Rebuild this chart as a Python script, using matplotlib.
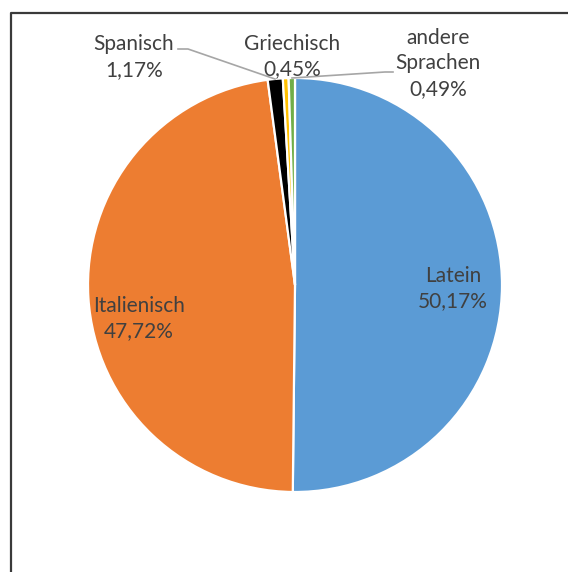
import matplotlib
matplotlib.use("Agg")
import matplotlib.pyplot as plt
from matplotlib.lines import Line2D

# Sprachenverteilung (Anteile in %)
sprachen = ["Latein", "Italienisch", "Spanisch", "Griechisch", "andere\nSprachen"]
anteile = [50.17, 47.72, 1.17, 0.45, 0.49]
farben = ["#5B9BD5", "#ED7D31", "#000000", "#FFC000", "#70AD47"]

W, H = 568, 572
plt.rcParams['font.family'] = ['Lato', 'DejaVu Sans']

fig = plt.figure(figsize=(W / 100, H / 100), dpi=100)

# pie centre and radius in pixels
cx, cy, r = 295, 285, 207
ax = fig.add_axes([(cx - r) / W, 1 - (cy + r) / H, 2 * r / W, 2 * r / H])
ax.pie(anteile, colors=farben, startangle=90, counterclock=False,
       wedgeprops=dict(edgecolor="white", linewidth=1.6))
ax.set_xlim(-1, 1)
ax.set_ylim(-1, 1)
ax.set_aspect("equal")


def fx(px):
    return px / W


def fy(py):
    return 1 - py / H


def fmt(v):
    return f"{v:.2f}".replace(".", ",") + "%"


# label anchors: centre x and baseline y of each text line
pos = [
    (453, [282, 307]),
    (139, [312, 337]),
    (134, [50, 76]),
    (292, [50, 75]),
    (438, [44, 69, 95]),
]
txt_color = "#404040"
for name, val, (x, baselines) in zip(sprachen, anteile, pos):
    lines = name.split("\n") + [fmt(val)]
    for s, b in zip(lines, baselines):
        fig.text(fx(x), fy(b), s, ha="center", va="baseline",
                 fontsize=15, color=txt_color)

# leader lines for the small slices
lc = "#A6A6A6"
fig.add_artist(Line2D([fx(178), fx(188), fx(275)], [fy(49), fy(49), fy(79)],
                      color=lc, lw=1.2))
fig.add_artist(Line2D([fx(393), fx(385), fx(292)], [fy(72), fy(72), fy(78)],
                      color=lc, lw=1.2))

# outer frame (left and top edges)
fig.add_artist(Line2D([fx(11), fx(11), fx(W)], [0, fy(13), fy(13)],
                      color="#3a3a3a", lw=1.6))

fig.savefig("out.png", dpi=100)
